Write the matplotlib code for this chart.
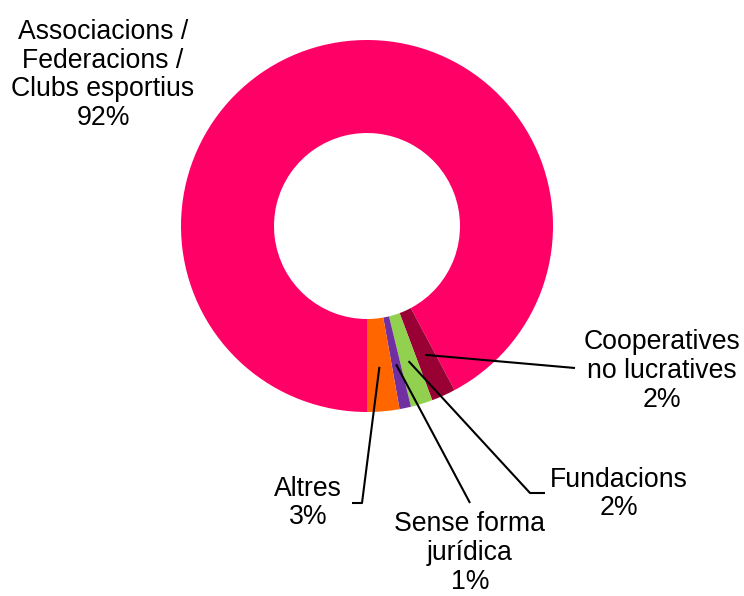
import numpy as np
import matplotlib
matplotlib.use("Agg")
from matplotlib import pyplot as plt

# dades del gràfic
categories = [
    "Associacions /\nFederacions /\nClubs esportius",
    "Cooperatives\nno lucratives",
    "Fundacions",
    "Sense forma\njurídica",
    "Altres",
]
valors = [92.2, 2.1, 1.9, 1.0, 2.8]
percentatges = ["92%", "2%", "2%", "1%", "3%"]
colors = ["#FF0066", "#990033", "#92D050", "#7030A0", "#FF6600"]

plt.rcParams["font.family"] = ["Liberation Sans", "DejaVu Sans"]

fig = plt.figure(figsize=(7.44, 5.96), dpi=100)
ax = fig.add_axes([0, 0, 1, 1])

wedges, _ = ax.pie(
    valors,
    colors=colors,
    startangle=-90,
    counterclock=False,
    radius=1.0,
    wedgeprops=dict(width=0.5, edgecolor="none"),
)

# centre del donut a (367, 226) px, radi 186 px
px = 186.0
ax.set_xlim(-367 / px, (744 - 367) / px)
ax.set_ylim((226 - 596) / px, 226 / px)
ax.set_aspect("equal")
ax.axis("off")

# posicions de les etiquetes (centre del text) i del colze de la línia guia
etiquetes = {
    0: dict(text=(103, 75), elbow=None, end=None),
    1: dict(text=(662, 371), elbow=(575, 368), end=None),
    2: dict(text=(619, 494), elbow=(530, 493), end=(545, 493)),
    3: dict(text=(470, 553), elbow=(470, 503), end=None),
    4: dict(text=(308, 503), elbow=(362, 503), end=(352, 503)),
}


def a_dades(p):
    return ((p[0] - 367) / px, (226 - p[1]) / px)


for i, w in enumerate(wedges):
    pos = etiquetes[i]
    tx, ty = a_dades(pos["text"])
    ax.text(tx, ty, f"{categories[i]}\n{percentatges[i]}", ha="center",
            va="center", fontsize=19.2, linespacing=1.14, color="black")
    if pos["elbow"] is None:
        continue
    mig = np.deg2rad((w.theta1 + w.theta2) / 2)
    r = 0.76
    xs = [r * np.cos(mig)]
    ys = [r * np.sin(mig)]
    ex, ey = a_dades(pos["elbow"])
    xs.append(ex)
    ys.append(ey)
    if pos["end"] is not None:
        fx, fy = a_dades(pos["end"])
        xs.append(fx)
        ys.append(fy)
    ax.plot(xs, ys, color="black", lw=1.5, solid_capstyle="butt")

fig.savefig("out.png", dpi=100)
plt.close(fig)
